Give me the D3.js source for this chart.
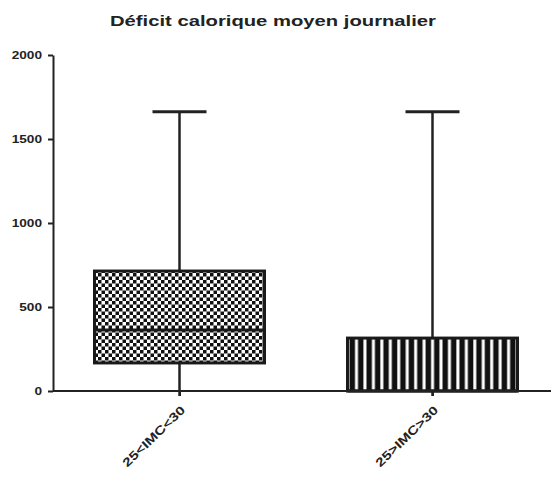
<!DOCTYPE html>
<html><head><meta charset="utf-8">
<script src="https://cdn.jsdelivr.net/npm/d3@7"></script>
<style>body{margin:0;background:#fff}svg{display:block}</style>
</head><body>
<script>
const categories = ["25<IMC<30", "25>IMC>30"];
const mins = [0, 0];
const q1 = [167, 0];
const medians = [363, 0];
const q3 = [714, 315];
const maxs = [1662, 1662];
const yTicks = [0, 500, 1000, 1500, 2000];
const title = "Déficit calorique moyen journalier";

const W = 551, H = 477;
const FONT = "Liberation Sans, Arial, sans-serif";
const svg = d3.select("body").append("svg").attr("width", W).attr("height", H);
const defs = svg.append("defs");
const chk = defs.append("pattern").attr("id","chk").attr("patternUnits","userSpaceOnUse")
  .attr("width",7).attr("height",7);
chk.append("rect").attr("width",7).attr("height",7).attr("fill","#fff");
chk.append("rect").attr("width",3.5).attr("height",3.5).attr("fill","#111");
chk.append("rect").attr("x",3.5).attr("y",3.5).attr("width",3.5).attr("height",3.5).attr("fill","#111");
const str = defs.append("pattern").attr("id","str").attr("patternUnits","userSpaceOnUse")
  .attr("width",8.45).attr("height",10).attr("x",350);
str.append("rect").attr("width",8.45).attr("height",10).attr("fill","#111");
str.append("rect").attr("x",5).attr("width",3).attr("height",10).attr("fill","#fff");
const fills = ["url(#chk)", "url(#str)"];

const y = d3.scaleLinear().domain([0, 2000]).range([391, 55]);
const x = d3.scalePoint().domain(categories).range([53, 559]).padding(0.5);
const boxW = 170;

function stretch(sel, k) {
  sel.each(function() {
    const len = this.getComputedTextLength();
    d3.select(this).attr("textLength", len * k).attr("lengthAdjust", "spacingAndGlyphs");
  });
}

svg.append("text").attr("x", 273).attr("y", 26).attr("text-anchor","middle")
  .attr("font-family",FONT).attr("font-weight","bold")
  .attr("font-size",15.5).attr("fill","#222").text(title)
  .call(s => s.attr("textLength", 326).attr("lengthAdjust","spacingAndGlyphs"));

// y axis
const ya = svg.append("g").attr("transform","translate(53,0)")
  .call(d3.axisLeft(y).tickValues(yTicks).tickFormat(d3.format("d")).tickSize(5).tickSizeOuter(0).tickPadding(6));
ya.select(".domain").attr("stroke","#222").attr("stroke-width",2);
ya.selectAll(".tick line").attr("stroke","#222").attr("stroke-width",2);
ya.selectAll(".tick text").attr("font-family",FONT)
  .attr("font-weight","bold").attr("font-size",10.5).attr("fill","#222")
  .call(stretch, 1.3);

// boxes
categories.forEach((c, i) => {
  const cx = x(c);
  const g = svg.append("g");
  g.append("line").attr("x1",cx).attr("x2",cx).attr("y1",y(maxs[i])).attr("y2",y(q3[i]))
    .attr("stroke","#222").attr("stroke-width",2.5);
  g.append("line").attr("x1",cx).attr("x2",cx).attr("y1",y(q1[i])).attr("y2",y(mins[i])+5)
    .attr("stroke","#222").attr("stroke-width",2.5);
  g.append("line").attr("x1",cx-27).attr("x2",cx+27).attr("y1",y(maxs[i])).attr("y2",y(maxs[i]))
    .attr("stroke","#222").attr("stroke-width",3);
  g.append("rect").attr("x",cx-boxW/2).attr("width",boxW)
    .attr("y",y(q3[i])).attr("height",y(q1[i])-y(q3[i]))
    .attr("fill",fills[i]).attr("stroke","#1a1a1a").attr("stroke-width",3);
  g.append("line").attr("x1",cx-boxW/2).attr("x2",cx+boxW/2).attr("y1",y(medians[i])).attr("y2",y(medians[i]))
    .attr("stroke","#1a1a1a").attr("stroke-width",3);
});

// x axis
const xa = svg.append("g").attr("transform","translate(0,391)")
  .call(d3.axisBottom(x).tickSize(5).tickSizeOuter(0).tickPadding(6));
xa.select(".domain").attr("d","M53,0H551").attr("stroke","#222").attr("stroke-width",2);
xa.selectAll(".tick line").attr("stroke","#222").attr("stroke-width",2);
xa.selectAll(".tick text").attr("font-family",FONT)
  .attr("font-weight","bold").attr("font-size",12).attr("fill","#222")
  .attr("text-anchor","end").attr("x",0).attr("y",0).attr("dy",null)
  .attr("transform","translate(6,20) rotate(-44)")
  .call(stretch, 1.3);
</script>
</body></html>
